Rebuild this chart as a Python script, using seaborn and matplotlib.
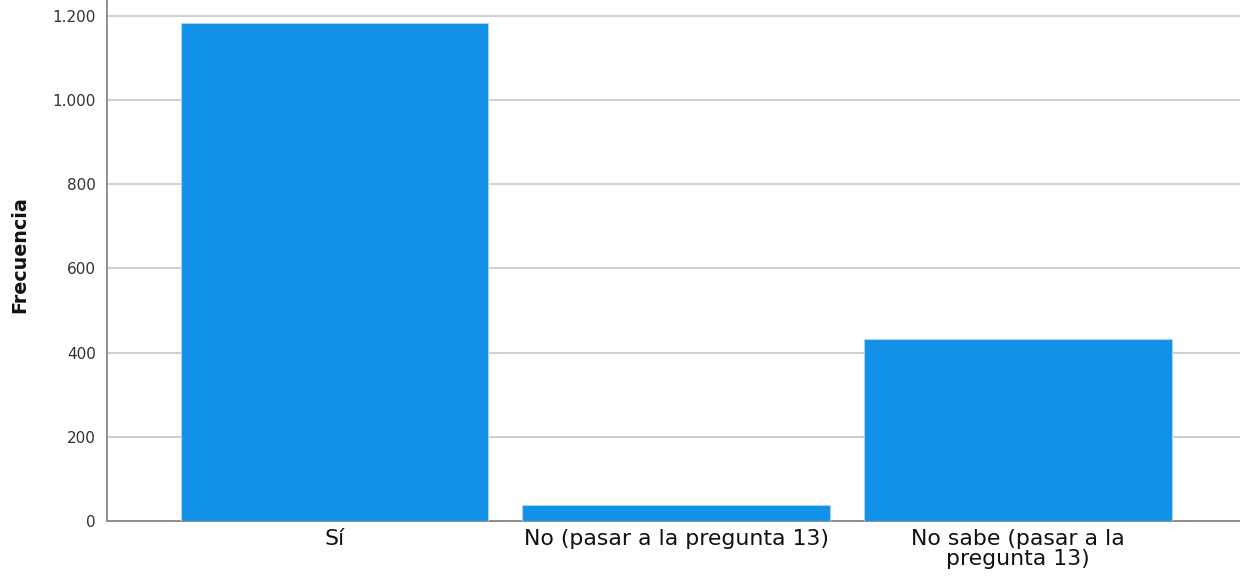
import matplotlib
matplotlib.use("Agg")
import matplotlib.pyplot as plt
import matplotlib.ticker as mticker
import seaborn as sns
import pandas as pd

# Data
categorias = ["Sí", "No (pasar a la pregunta 13)", "No sabe (pasar a la\npregunta 13)"]
frecuencias = [1183, 38, 432]
y_ticks = [0, 200, 400, 600, 800, 1000, 1200]

df = pd.DataFrame({"Categoria": categorias, "Frecuencia": frecuencias})

sns.set_theme(style="white")
plt.rcParams['font.family'] = ['DejaVu Sans']

fig = plt.figure(figsize=(12.4, 5.77), dpi=100)
ax = fig.add_axes([0.0863, 0.0971, 0.9137, 0.9029])

sns.barplot(data=df, x="Categoria", y="Frecuencia", color="#1192e8",
            width=0.9, saturation=1, edgecolor="#a8d4f5", linewidth=0.8,
            ax=ax, zorder=3)

ax.set_xlim(-0.666, 2.65)
ax.set_ylim(0, 1237)
ax.set_yticks(y_ticks)
ax.yaxis.set_major_formatter(mticker.FuncFormatter(lambda v, p: f"{int(v):,}".replace(",", ".")))
ax.yaxis.grid(True, color="#c8c8c8", linewidth=1.2, zorder=0)
ax.set_axisbelow(True)

ax.tick_params(axis="y", length=0, labelsize=11, colors="#333333", pad=8)
ax.tick_params(axis="x", length=0, labelsize=15.8, colors="#111111", pad=6)
for lbl in ax.get_xticklabels():
    lbl.set_linespacing(0.95)
    lbl.set_verticalalignment("top")

ax.set_xlabel("")
ax.set_ylabel("Frecuencia", fontsize=13.8, fontweight="bold", color="#111111")
ax.yaxis.set_label_coords(-0.069, 0.512)

for s in ["top", "right"]:
    ax.spines[s].set_visible(False)
ax.spines["left"].set_color("#888888")
ax.spines["bottom"].set_color("#888888")
ax.spines["left"].set_linewidth(1.3)
ax.spines["bottom"].set_linewidth(1.3)

fig.savefig("out.png", dpi=100)
